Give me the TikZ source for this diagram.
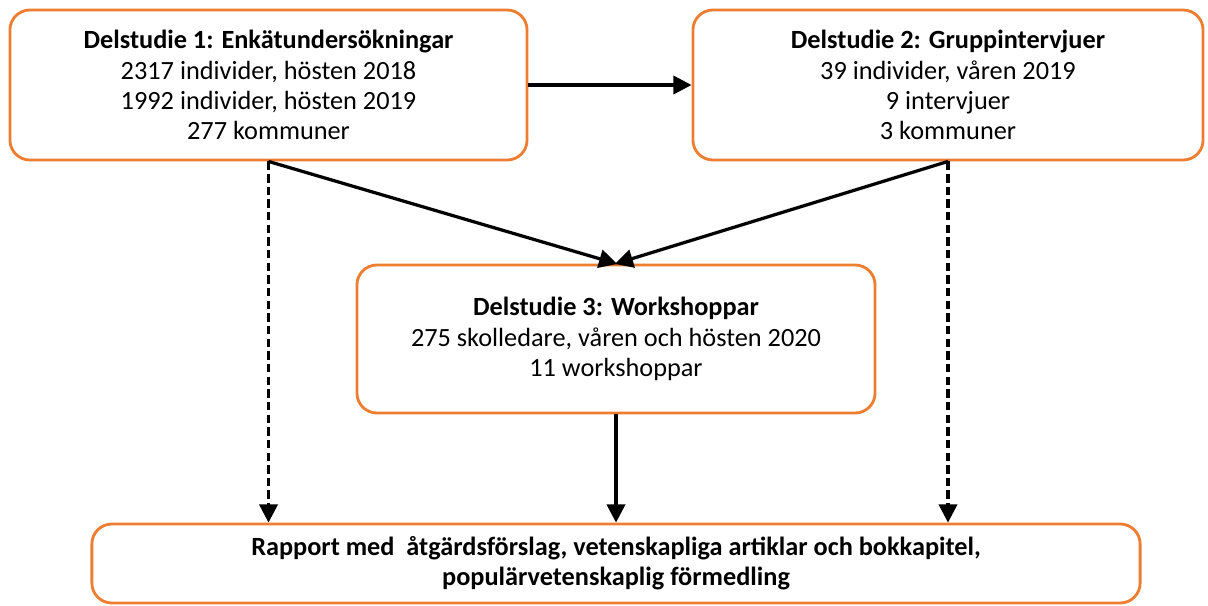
\documentclass[tikz,border=0pt]{standalone}
\usepackage{fontspec}
\setmainfont{Carlito}
\usepackage{xcolor}
\definecolor{boxorange}{HTML}{ED7D31}
\usetikzlibrary{
  arrows.meta,
  positioning
}

\begin{document}
\begin{tikzpicture}[
    x=0.025cm, y=-0.025cm,
    every node/.style = {shape=rectangle, rounded corners=0.5cm,
      draw=boxorange, line width=2pt, align=center,
      font=\fontsize{18.7}{21.5}\selectfont},
    flow/.style = {draw=black, line width=2.3pt,
      -{Triangle[length=13pt, width=13pt]}},
    flowdash/.style = {flow, dash pattern=on 6pt off 3pt}]
  \useasboundingbox (0,0) rectangle (1208,605);
  \node[minimum width=12.925cm, minimum height=3.75cm] (del1) at (268.5,85)
    {\textbf{Delstudie 1: Enkätundersökningar}\\
     2317 individer, hösten 2018\\
     1992 individer, hösten 2019\\
     277 kommuner};
  \node[minimum width=12.75cm, minimum height=3.75cm] (del2) at (948,85)
    {\textbf{Delstudie 2: Gruppintervjuer}\\
     39 individer, våren 2019\\
     9 intervjuer\\
     3 kommuner};
  \node[minimum width=12.95cm, minimum height=3.7cm] (del3) at (616,339)
    {\textbf{Delstudie 3: Workshoppar}\\
     275 skolledare, våren och hösten 2020\\
     11 workshoppar};
  \node[minimum width=26.2cm, minimum height=1.975cm] (rapport) at (616,563.5)
    {\textbf{Rapport med~ åtgärdsförslag, vetenskapliga artiklar och bokkapitel,}\\
     \textbf{populärvetenskaplig förmedling}};
  % connectors
  \draw[flow] (del1.east) -- (del2.west);
  \draw[flow, shorten >=-1pt] (del1.south) -- (del3.north);
  \draw[flow, shorten >=-1pt] (del2.south) -- (del3.north);
  \draw[flow] (del3.south) -- (rapport.north);
  \draw[flowdash] (del1.south) -- (del1.south |- rapport.north);
  \draw[flowdash] (del2.south) -- (del2.south |- rapport.north);
\end{tikzpicture}
\end{document}
